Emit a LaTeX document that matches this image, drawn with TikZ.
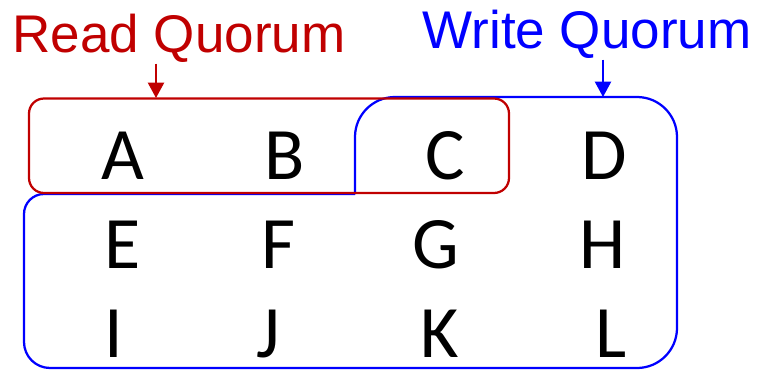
\documentclass[tikz,border=0pt]{standalone}
\usepackage{fontspec}
\setmainfont{Liberation Sans}
\newfontfamily\cellfont{Carlito}
\usetikzlibrary{arrows.meta}
\definecolor{quorumred}{RGB}{192,0,0}
\definecolor{quorumblue}{RGB}{0,0,255}

\begin{document}
\begin{tikzpicture}[
    x=0.025cm, y=-0.025cm,
    cell/.style={anchor=base, inner sep=0pt, font=\cellfont\fontsize{52.6}{60}\selectfont},
    title/.style={anchor=base, inner sep=1pt, font=\fontsize{37.7}{44}\selectfont},
    readbox/.style={draw=quorumred, line width=1.6pt, rounded corners=0.375cm},
    writebox/.style={draw=quorumblue, line width=1.6pt},
    arrow/.style={-{Triangle[width=11.5pt, length=11pt]}, line width=1.5pt}
]
\useasboundingbox (0,0) rectangle (759,370);

% the twelve replicas
\foreach \n/\x/\y in {A/123/179, B/285/179, C/445/179, D/604/179,
                      E/123/268, F/278/268, G/436/268, H/603/268,
                      I/114/357, J/268/357, K/440/357, L/611/357}
  \node[cell] (\n) at (\x,\y) {\n};

% write quorum: C, D and the two lower rows
\draw[writebox] (355,194) [rounded corners=1cm] -- (355,97) -- (677,97)
  -- (677,368) [rounded corners=0.65cm] -- (24,368) [rounded corners=0.5cm]
  -- (24,194) -- (355,194);

% read quorum: the top row up to C
\draw[readbox] (29,98.5) rectangle (509,193);

\node[title, text=quorumred] (readq) at (179,52) {Read Quorum};
\node[title, text=quorumblue] (writeq) at (587,48) {Write Quorum};

\coordinate (rtip) at (156,98);
\coordinate (wtip) at (603,97);
\draw[arrow, quorumred] (readq.south -| rtip) -- (rtip);
\draw[arrow, quorumblue] (writeq.south -| wtip) -- (wtip);
\end{tikzpicture}
\end{document}
